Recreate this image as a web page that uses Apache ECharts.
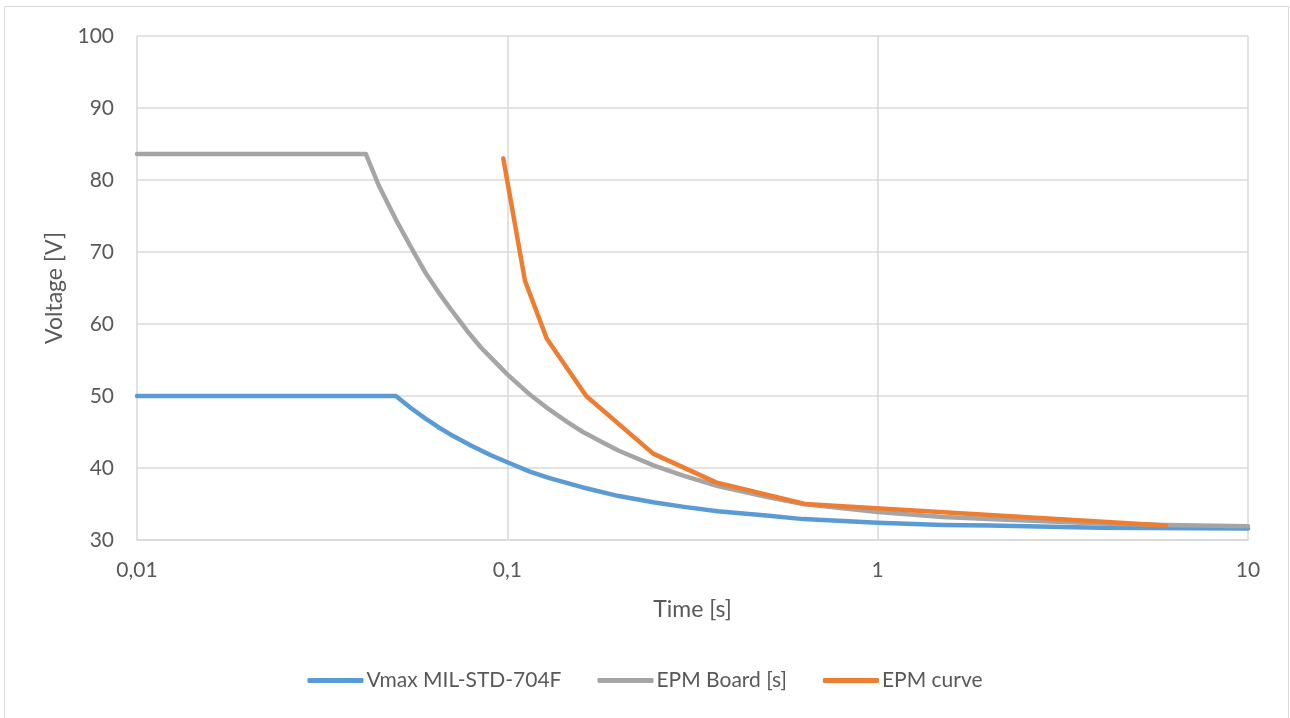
<!DOCTYPE html>
<html>
<head>
<meta charset="utf-8">
<script src="https://cdn.jsdelivr.net/npm/echarts@6/dist/echarts.min.js"></script>
<style>
  html, body { margin: 0; padding: 0; background: #fff; }
  #chart { width: 1290px; height: 718px; }
</style>
</head>
<body>
<div id="chart"></div>
<script>
// Overvoltage limit curves: voltage [V] versus time [s] on a log time axis
const seriesNames = ['Vmax MIL-STD-704F', 'EPM Board [s]', 'EPM curve'];

const milTime = [0.01, 0.05, 0.055, 0.06, 0.065, 0.07, 0.08, 0.09, 0.1, 0.115, 0.13, 0.16, 0.2, 0.25, 0.3, 0.37, 0.5, 0.63, 1, 1.5, 2, 4, 10];
const milVolt = [50, 50, 48.3, 46.9, 45.7, 44.7, 43.1, 41.8, 40.8, 39.5, 38.6, 37.3, 36.1, 35.2, 34.6, 34.0, 33.4, 32.9, 32.4, 32.1, 32.0, 31.7, 31.6];

const boardTime = [0.01, 0.0415, 0.045, 0.05, 0.056, 0.06, 0.065, 0.07, 0.078, 0.085, 0.09, 0.1, 0.115, 0.13, 0.145, 0.16, 0.18, 0.2, 0.25, 0.3, 0.37, 0.5, 0.63, 1, 1.5, 2, 4, 6, 10];
const boardVolt = [83.6, 83.6, 79.2, 74.5, 69.9, 67.2, 64.5, 62.2, 59.0, 56.7, 55.4, 53.0, 50.2, 48.1, 46.4, 45.0, 43.6, 42.4, 40.3, 38.9, 37.5, 36.0, 35.0, 33.9, 33.2, 32.9, 32.3, 32.1, 31.9];

const curveTime = [0.0975, 0.1116, 0.1277, 0.1633, 0.2476, 0.366, 0.636, 6.0];
const curveVolt = [83, 66, 58, 50, 42, 38, 35, 32];

const yTicks = { min: 30, max: 100, step: 10 };
const xRange = { min: 0.01, max: 10 };

const colors = ['#5B9BD5', '#A5A5A5', '#ED7D31'];
const textColor = '#595959';
const gridColor = '#D9D9D9';
const font = 'Lato, Calibri, "Open Sans", sans-serif';

function pairs(ts, vs) { return ts.map((t, i) => [t, vs[i]]); }

const chart = echarts.init(document.getElementById('chart'), null, { renderer: 'canvas' });

chart.setOption({
  animation: false,
  backgroundColor: '#ffffff',
  textStyle: { fontFamily: font },
  graphic: [{
    type: 'rect',
    shape: { x: 4.5, y: 6.5, width: 1284, height: 720 },
    style: { fill: 'none', stroke: gridColor, lineWidth: 1 },
    silent: true, z: -1
  }],
  grid: { left: 137, right: 42, top: 36, bottom: 178, containLabel: false },
  legend: {
    data: seriesNames,
    bottom: 22,
    left: 'center',
    icon: 'roundRect',
    itemWidth: 56,
    itemHeight: 5,
    itemGap: 36,
    textStyle: { color: textColor, fontSize: 21, fontFamily: font, padding: [0, 0, 0, -2] }
  },
  xAxis: {
    type: 'log',
    logBase: 10,
    min: xRange.min,
    max: xRange.max,
    name: 'Time [s]',
    nameLocation: 'middle',
    nameGap: 58,
    nameTextStyle: { color: textColor, fontSize: 23, fontFamily: font },
    axisLine: { show: true, lineStyle: { color: gridColor, width: 1.5 } },
    axisTick: { show: false },
    axisLabel: {
      color: textColor, fontSize: 21, fontFamily: font, margin: 20,
      formatter: v => String(+v.toPrecision(6)).replace('.', ',')
    },
    splitLine: { show: true, lineStyle: { color: gridColor, width: 1.5 } },
    minorSplitLine: { show: false }
  },
  yAxis: {
    type: 'value',
    min: yTicks.min,
    max: yTicks.max,
    interval: yTicks.step,
    name: 'Voltage [V]',
    nameLocation: 'middle',
    nameGap: 70,
    nameRotate: 90,
    nameTextStyle: { color: textColor, fontSize: 23, fontFamily: font },
    axisLine: { show: false },
    axisTick: { show: false },
    axisLabel: { color: textColor, fontSize: 21, fontFamily: font, margin: 23 },
    splitLine: { show: true, lineStyle: { color: gridColor, width: 1.5 } }
  },
  series: [
    { name: seriesNames[0], data: pairs(milTime, milVolt) },
    { name: seriesNames[1], data: pairs(boardTime, boardVolt) },
    { name: seriesNames[2], data: pairs(curveTime, curveVolt) }
  ].map((s, i) => Object.assign({
    type: 'line',
    showSymbol: false,
    symbol: 'none',
    smooth: false,
    color: colors[i],
    lineStyle: { color: colors[i], width: 4.5, cap: 'round', join: 'round' },
    z: 2 + i
  }, s))
});
</script>
</body>
</html>
